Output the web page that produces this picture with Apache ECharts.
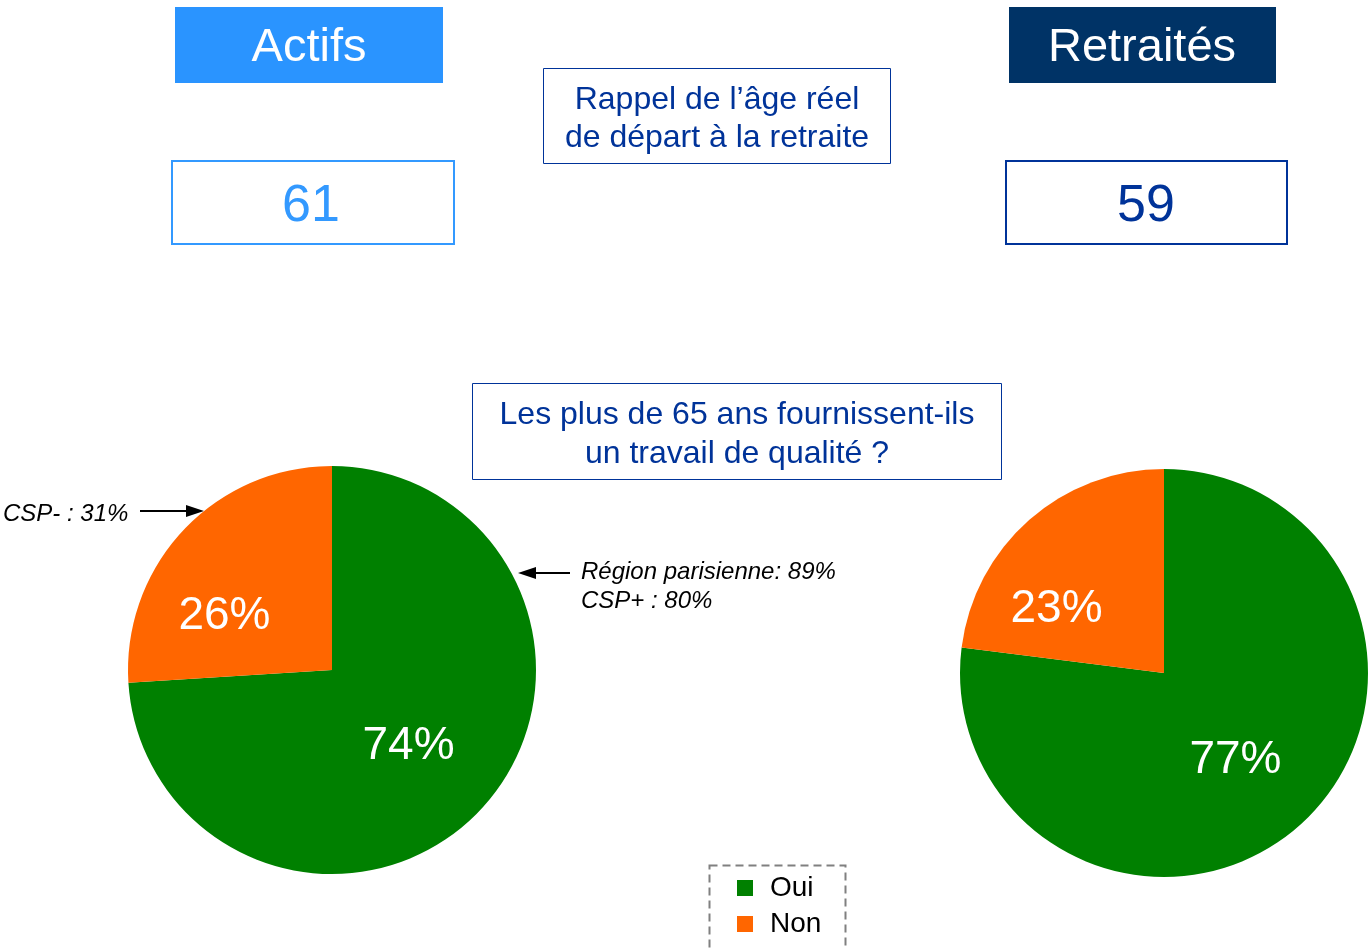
<!DOCTYPE html>
<html>
<head>
<meta charset="utf-8">
<script src="https://cdn.jsdelivr.net/npm/echarts@6/dist/echarts.min.js"></script>
<style>
  html, body { margin: 0; padding: 0; background: #fff; }
  #chart { width: 1369px; height: 950px; }
</style>
</head>
<body>
<div id="chart"></div>
<script>
const categories = ['Oui', 'Non']
const actifsValues = [74, 26]
const retraitesValues = [77, 23]
const groupLabels = ['Actifs', 'Retraités']
const ageValues = [61, 59]

const colors = ['#008000', '#FF6600']
const font = 'Arial, "Liberation Sans", sans-serif'

// label nudges so the percentages sit where the original put them
const actifsOffsets = [[0, 4], [-31, 18]]
const retraitesOffsets = [[2, 9], [-38, 15]]

function pieData(values, offsets) {
  return categories.map((name, i) => ({
    name,
    value: values[i],
    itemStyle: { color: colors[i] },
    label: { offset: offsets[i] }
  }))
}

function pieSeries(center, values, offsets) {
  return {
    type: 'pie',
    radius: 204,
    center,
    startAngle: 90,
    clockwise: true,
    silent: true,
    animation: false,
    label: {
      show: true,
      position: 'inside',
      color: '#fff',
      fontSize: 46,
      fontFamily: font,
      formatter: p => p.value + '%'
    },
    labelLine: { show: false },
    itemStyle: { borderWidth: 0 },
    emphasis: { disabled: true },
    data: pieData(values, offsets)
  }
}

// simple arrow: line plus a filled head
function arrow(x1, x2, y) {
  const dir = x2 > x1 ? 1 : -1
  const base = x2 - dir * 18
  return [
    { type: 'line', shape: { x1, y1: y, x2: base, y2: y }, style: { stroke: '#000', lineWidth: 2 } },
    { type: 'polygon', shape: { points: [[x2, y], [base, y - 6], [base, y + 6]] }, style: { fill: '#000' } }
  ]
}

function text(x, y, str, size, color, extra) {
  return {
    type: 'text',
    x, y,
    style: Object.assign({
      text: str,
      font: size + 'px ' + font,
      fill: color,
      align: 'center',
      verticalAlign: 'middle'
    }, extra || {})
  }
}

const italic = { align: 'left', font: 'italic 24px ' + font }

const chart = echarts.init(document.getElementById('chart'))
const option = {
  backgroundColor: '#fff',
  legend: {
    orient: 'vertical',
    left: 737,
    top: 874,
    padding: 0,
    icon: 'rect',
    itemWidth: 16,
    itemHeight: 16,
    itemGap: 8,
    selectedMode: false,
    textStyle: { fontSize: 28, color: '#000', fontFamily: font, padding: [0, 0, 5, 12] },
    data: categories
  },
  graphic: {
    elements: [
      // Actifs header and age box
      { type: 'rect', shape: { x: 175, y: 7, width: 268, height: 76 }, style: { fill: '#2A94FF' } },
      text(309, 48, groupLabels[0], 47, '#fff'),
      { type: 'rect', shape: { x: 172, y: 161, width: 282, height: 83 }, style: { fill: '#fff', stroke: '#3399FF', lineWidth: 2 } },
      text(311, 207, String(ageValues[0]), 52, '#3399FF'),
      // Retraités header and age box
      { type: 'rect', shape: { x: 1009, y: 7, width: 267, height: 76 }, style: { fill: '#003366' } },
      text(1142, 48, groupLabels[1], 47, '#fff'),
      { type: 'rect', shape: { x: 1006, y: 161, width: 281, height: 83 }, style: { fill: '#fff', stroke: '#003399', lineWidth: 2 } },
      text(1146, 207, String(ageValues[1]), 52, '#003399'),
      // centre boxes
      { type: 'rect', shape: { x: 543.5, y: 68.5, width: 347, height: 95 }, style: { fill: '#fff', stroke: '#003399', lineWidth: 1 } },
      text(717, 100, 'Rappel de l’âge réel', 32, '#003399'),
      text(717, 138, 'de départ à la retraite', 32, '#003399'),
      { type: 'rect', shape: { x: 472.5, y: 383.5, width: 529, height: 96 }, style: { fill: '#fff', stroke: '#003399', lineWidth: 1 } },
      text(737, 415, 'Les plus de 65 ans fournissent-ils', 32, '#003399'),
      text(737, 454, 'un travail de qualité ?', 32, '#003399'),
      // annotations
      text(3, 514, 'CSP- : 31%', 24, '#000', italic),
      ...arrow(140, 204, 511),
      text(581, 572, 'Région parisienne: 89%', 24, '#000', italic),
      text(581, 601, 'CSP+ : 80%', 24, '#000', italic),
      ...arrow(570, 518, 573),
      // dashed legend frame
      { type: 'rect', shape: { x: 709.5, y: 865.5, width: 136, height: 100 }, style: { fill: 'none', stroke: '#808080', lineWidth: 2, lineDash: [8, 5] } }
    ]
  },
  series: [
    pieSeries([332, 670], actifsValues, actifsOffsets),
    pieSeries([1164, 673], retraitesValues, retraitesOffsets)
  ]
}
chart.setOption(option)
</script>
</body>
</html>
